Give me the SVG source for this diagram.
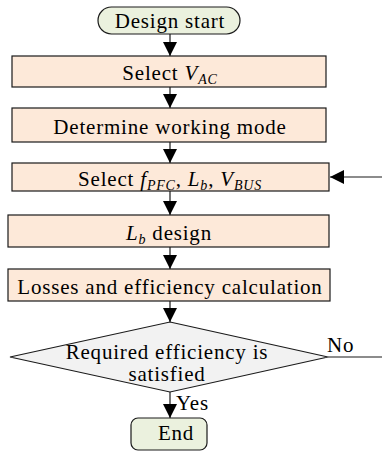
<svg xmlns="http://www.w3.org/2000/svg" width="382" height="452" viewBox="0 0 382 452" font-family="'Liberation Serif', 'Times New Roman', Times, serif" font-size="21">
<style>
text{font-family:'Liberation Serif','Times New Roman',Times,serif;font-size:21px;fill:#000;letter-spacing:0.8px;text-anchor:middle}
.i{font-style:italic}
.sub{font-style:italic;font-size:14px}
.box{fill:#fde9d9;stroke:#1a1a1a;stroke-width:1.2}
.term{fill:#ebf1de;stroke:#1a1a1a;stroke-width:1.2}
.dec{fill:#f2f2f2;stroke:#1a1a1a;stroke-width:1.2}
.ln{fill:none;stroke:#1a1a1a;stroke-width:1.2}
.lbl{text-anchor:start}
</style>
<defs>
<marker id="ah" markerUnits="userSpaceOnUse" markerWidth="14" markerHeight="14" refX="14" refY="7" orient="auto">
<path d="M0,0 L14,7 L0,14 z" fill="#000"/>
</marker>
</defs>
<g id="connectors">
<line class="ln" x1="170" y1="34" x2="170" y2="56" marker-end="url(#ah)"/>
<line class="ln" x1="170" y1="87" x2="170" y2="108" marker-end="url(#ah)"/>
<line class="ln" x1="170" y1="142" x2="170" y2="163" marker-end="url(#ah)"/>
<line class="ln" x1="170" y1="191" x2="170" y2="215" marker-end="url(#ah)"/>
<line class="ln" x1="170" y1="247" x2="170" y2="269" marker-end="url(#ah)"/>
<line class="ln" x1="170" y1="301" x2="170" y2="322" marker-end="url(#ah)"/>
<line class="ln" x1="170" y1="392" x2="170" y2="418" marker-end="url(#ah)"/>
<line class="ln" x1="382" y1="177" x2="330" y2="177" marker-end="url(#ah)"/>
<line class="ln" x1="328" y1="357" x2="382" y2="357"/>
<text class="lbl" x="327" y="352">No</text>
<text class="lbl" x="176" y="410">Yes</text>
</g>
<g id="start">
<rect class="term" x="98" y="7" width="142" height="27" rx="13.5"/>
<text x="170" y="27.5">Design start</text>
</g>
<g id="selectVac">
<rect class="box" x="12" y="56" width="314" height="31"/>
<text x="170" y="80">Select <tspan class="i">V</tspan><tspan class="sub" dy="4">AC</tspan></text>
</g>
<g id="mode">
<rect class="box" x="12" y="108" width="314" height="34"/>
<text x="170" y="134">Determine working mode</text>
</g>
<g id="selectF">
<rect class="box" x="12" y="163" width="317" height="28"/>
<text x="170" y="186">Select <tspan class="i">f</tspan><tspan class="sub" dy="4">PFC</tspan><tspan dy="-4">, </tspan><tspan class="i">L</tspan><tspan class="sub" dy="4">b</tspan><tspan dy="-4">, </tspan><tspan class="i">V</tspan><tspan class="sub" dy="4">BUS</tspan></text>
</g>
<g id="lbDesign">
<rect class="box" x="8" y="215" width="321" height="32"/>
<text x="169" y="240"><tspan class="i">L</tspan><tspan class="sub" dy="4">b</tspan><tspan dy="-4"> design</tspan></text>
</g>
<g id="losses">
<rect class="box" x="8" y="269" width="322" height="32"/>
<text x="170" y="294">Losses and efficiency calculation</text>
</g>
<g id="decision">
<polygon class="dec" points="170,322 328,357 170,392 10,357"/>
<text x="167" y="359">Required efficiency is</text>
<text x="167" y="381">satisfied</text>
</g>
<g id="end">
<rect class="term" x="131" y="418" width="76" height="32" rx="7"/>
<text x="176" y="440">End</text>
</g>
</svg>
